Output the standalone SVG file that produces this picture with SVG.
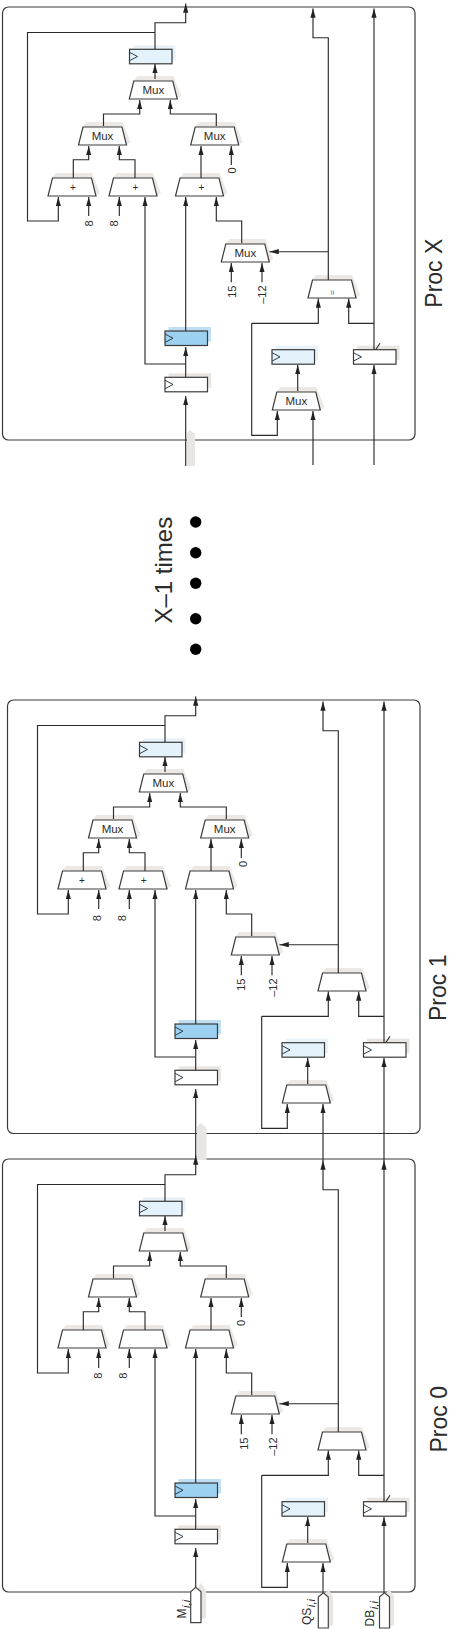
<svg xmlns="http://www.w3.org/2000/svg" xmlns:xlink="http://www.w3.org/1999/xlink" width="451" height="1629" viewBox="0 0 451 1629">
<style>
text{font-family:"Liberation Sans",Arial,sans-serif;fill:#2b2b2b}
.frame{fill:#fff;stroke:#3a3a3a;stroke-width:1.2}
.w{fill:none;stroke:#2a2a2a;stroke-width:1.15}
.a{marker-end:url(#ah)}
.trap{fill:#fff;stroke:#3c3c3c;stroke-width:1.2;stroke-linejoin:miter}
.trapsh{fill:#ebe8e5}
.reg{stroke:#3a3a3a;stroke-width:1.2}
.clk{fill:none;stroke:#2f3f4a;stroke-width:1}
.mux{font-size:11.5px;text-anchor:middle}
.plus{font-size:10px;text-anchor:middle}
.num{font-size:11px}
.big{font-size:23px}
.pin{fill:#fff;stroke:#444;stroke-width:1.2}
.sub{font-size:11.5px;font-style:italic}
.bus{fill:#e8e5e2}
</style>
<defs>
<marker id="ah" markerUnits="userSpaceOnUse" markerWidth="10" markerHeight="6" refX="9.3" refY="2.6" orient="auto"><path d="M0,0 L9.3,2.6 L0,5.2z" fill="#222"/></marker>
<g id="trapezoid"><polygon class="trapsh" points="4,-18 8,-23 44,-23 52,-3 48,0"/><polygon class="trap" points="0,0 48,0 43.5,-18 4.5,-18"/></g>
<g id="regw"><rect x="3.5" y="-4" width="42.5" height="14.5" fill="#e8e5e2"/><rect class="reg" width="42.5" height="14.5" fill="#fff"/><polyline class="clk" points="0,3 8,7.2 0,11.4"/></g>
<g id="regl"><rect x="3.5" y="-4" width="42.5" height="14.5" fill="#e9f2f8"/><rect class="reg" width="42.5" height="14.5" fill="#e3f2fb"/><polyline class="clk" points="0,3 8,7.2 0,11.4"/></g>
<g id="regb"><rect x="3.5" y="-4" width="42.5" height="14.5" fill="#bfe0f4"/><rect class="reg" width="42.5" height="14.5" fill="#9dd1f1"/><polyline class="clk" points="0,3 8,7.2 0,11.4"/></g>
</defs>
<rect width="451" height="1629" fill="#fff"/>

<g id="frames">
<rect id="frame-x" class="frame" x="2.5" y="7" width="412.5" height="433" rx="6"/>
<rect id="frame-1" class="frame" x="7.5" y="700" width="412.5" height="433.5" rx="6"/>
<rect id="frame-0" class="frame" x="2.5" y="1159" width="412.5" height="433" rx="6"/>
</g>

<g id="bus-shadows">
<polygon class="bus" points="187,466 187,433 190,430 195,434 195,466"/>
<polygon class="bus" points="197,1160 197,1127 201,1123 206.5,1128 206.5,1160"/>
</g>

<g id="proc-x" transform="translate(0,0)">
<g id="x-reg-out" transform="translate(129.5,49.3)"><use xlink:href="#regl" href="#regl"/></g>
<g id="x-mux-top" transform="translate(129.3,99)"><use xlink:href="#trapezoid" href="#trapezoid"/><text class="mux" x="24" y="-5">Mux</text></g>
<g id="x-mux-l" transform="translate(78.5,145)"><use xlink:href="#trapezoid" href="#trapezoid"/><text class="mux" x="24" y="-5">Mux</text></g>
<g id="x-mux-r" transform="translate(190.7,145)"><use xlink:href="#trapezoid" href="#trapezoid"/><text class="mux" x="24" y="-5">Mux</text></g>
<g id="x-add-a" transform="translate(48,196)"><use xlink:href="#trapezoid" href="#trapezoid"/><text class="plus" x="25" y="-5.5">+</text></g>
<g id="x-add-b" transform="translate(109,196)"><use xlink:href="#trapezoid" href="#trapezoid"/><text class="plus" x="26.5" y="-5.5">+</text></g>
<g id="x-add-c" transform="translate(175.5,196)"><use xlink:href="#trapezoid" href="#trapezoid"/><text class="plus" x="26" y="-5.5">+</text></g>
<g id="x-mux-3" transform="translate(221.3,262)"><use xlink:href="#trapezoid" href="#trapezoid"/><text class="mux" x="24" y="-5">Mux</text></g>
<g id="x-eq" transform="translate(308,298)"><use xlink:href="#trapezoid" href="#trapezoid"/><text class="plus" transform="translate(27,-5.5) rotate(-90)" style="font-size:9px;fill:#666">=</text></g>
<g id="x-mux-4" transform="translate(272.3,410)"><use xlink:href="#trapezoid" href="#trapezoid"/><text class="mux" x="24" y="-5">Mux</text></g>
<g id="x-reg-blue" transform="translate(165,331)"><use xlink:href="#regb" href="#regb"/></g>
<g id="x-reg-white" transform="translate(165,377.3)"><use xlink:href="#regw" href="#regw"/></g>
<g id="x-reg-light" transform="translate(272,349.7)"><use xlink:href="#regl" href="#regl"/></g>
<g id="x-reg-right" transform="translate(353.5,349.7)"><use xlink:href="#regw" href="#regw"/><path class="w" d="M22.5,-0.5 L26.5,-6.5"/></g>
<g id="x-labels">
<text class="num" transform="translate(93,223.5) rotate(-90)" text-anchor="middle">8</text>
<text class="num" transform="translate(118,223.5) rotate(-90)" text-anchor="middle">8</text>
<text class="num" transform="translate(236,170.5) rotate(-90)" text-anchor="middle">0</text>
<text class="num" transform="translate(236,285.5) rotate(-90)" text-anchor="end">15</text>
<text class="num" transform="translate(265.7,285.5) rotate(-90)" text-anchor="end">–12</text>
</g>
<g id="x-wires">
<path class="w a" d="M155,49 V22.7 H185.7 V3.5"/>
<path class="w a" d="M155,32.5 H27.5 V221 H58.3 V197"/>
<path class="w a" d="M155,79 V64"/>
<path class="w a" d="M103.5,126 V114 H139.7 V100"/>
<path class="w a" d="M216.3,126 V114 H170.3 V100"/>
<path class="w a" d="M73.3,178 V159.7 H88.7 V146"/>
<path class="w a" d="M135,178 V159.7 H119.3 V146"/>
<path class="w a" d="M201,178 V146"/>
<path class="w a" d="M231.3,165 V146"/>
<path class="w a" d="M88.7,216 V197"/>
<path class="w a" d="M119.3,216 V197"/>
<path class="w a" d="M185.7,364 H145 V197"/>
<path class="w a" d="M185.7,331 V197"/>
<path class="w a" d="M241.7,243 V221 H216.3 V197"/>
<path class="w a" d="M231.3,282.3 V263"/>
<path class="w a" d="M262,282.3 V263"/>
<path class="w a" d="M328.3,251.7 H269.5"/>
<path class="w a" d="M328.3,280 V37.7 H313 V8.5"/>
<path class="w a" d="M374,350 V8.5"/>
<path class="w a" d="M374,323.3 H348.7 V298.5"/>
<path class="w a" d="M251.7,323.3 H318.3 V298.5"/>
<path class="w a" d="M251.7,323.3 V435.3 H277.3 V411"/>
<path class="w a" d="M297.7,391 V365"/>
<path class="w a" d="M374,465 V365"/>
<path class="w a" d="M313,465 V411"/>
<path class="w a" d="M185.7,466 V396"/>
<path class="w a" d="M185.7,377 V347"/>
</g>
</g>

<g id="proc-1" transform="translate(10,693)">
<g id="p1-reg-out" transform="translate(129.5,49.3)"><use xlink:href="#regl" href="#regl"/></g>
<g id="p1-mux-top" transform="translate(129.3,99)"><use xlink:href="#trapezoid" href="#trapezoid"/><text class="mux" x="24" y="-5">Mux</text></g>
<g id="p1-mux-l" transform="translate(78.5,145)"><use xlink:href="#trapezoid" href="#trapezoid"/><text class="mux" x="24" y="-5">Mux</text></g>
<g id="p1-mux-r" transform="translate(190.7,145)"><use xlink:href="#trapezoid" href="#trapezoid"/><text class="mux" x="24" y="-5">Mux</text></g>
<g id="p1-add-a" transform="translate(48,196)"><use xlink:href="#trapezoid" href="#trapezoid"/><text class="plus" x="24" y="-5.5">+</text></g>
<g id="p1-add-b" transform="translate(109,196)"><use xlink:href="#trapezoid" href="#trapezoid"/><text class="plus" x="24.7" y="-5.5">+</text></g>
<g id="p1-add-c" transform="translate(175.5,196)"><use xlink:href="#trapezoid" href="#trapezoid"/></g>
<g id="p1-mux-3" transform="translate(221.3,262)"><use xlink:href="#trapezoid" href="#trapezoid"/></g>
<g id="p1-eq" transform="translate(308,298)"><use xlink:href="#trapezoid" href="#trapezoid"/></g>
<g id="p1-mux-4" transform="translate(272.3,410)"><use xlink:href="#trapezoid" href="#trapezoid"/></g>
<g id="p1-reg-blue" transform="translate(165,331)"><use xlink:href="#regb" href="#regb"/></g>
<g id="p1-reg-white" transform="translate(165,377.3)"><use xlink:href="#regw" href="#regw"/></g>
<g id="p1-reg-light" transform="translate(272,349.7)"><use xlink:href="#regl" href="#regl"/></g>
<g id="p1-reg-right" transform="translate(353.5,349.7)"><use xlink:href="#regw" href="#regw"/><path class="w" d="M22.5,-0.5 L26.5,-6.5"/></g>
<g id="p1-labels">
<text class="num" transform="translate(90.7,225.3) rotate(-90)" text-anchor="middle">8</text>
<text class="num" transform="translate(116,225.3) rotate(-90)" text-anchor="middle">8</text>
<text class="num" transform="translate(237,171) rotate(-90)" text-anchor="middle">0</text>
<text class="num" transform="translate(235,285.5) rotate(-90)" text-anchor="end">15</text>
<text class="num" transform="translate(266.7,285.5) rotate(-90)" text-anchor="end">–12</text>
</g>
<g id="p1-wires">
<path class="w a" d="M155,49 V22.7 H185.7 V3.5"/>
<path class="w a" d="M155,32.5 H27.5 V221 H58.3 V197"/>
<path class="w a" d="M155,79 V64"/>
<path class="w a" d="M103.5,126 V114 H139.7 V100"/>
<path class="w a" d="M216.3,126 V114 H170.3 V100"/>
<path class="w a" d="M73.3,178 V159.7 H88.7 V146"/>
<path class="w a" d="M135,178 V159.7 H119.3 V146"/>
<path class="w a" d="M201,178 V146"/>
<path class="w a" d="M231.3,165 V146"/>
<path class="w a" d="M88.7,216 V197"/>
<path class="w a" d="M119.3,216 V197"/>
<path class="w a" d="M185.7,364 H145 V197"/>
<path class="w a" d="M185.7,331 V197"/>
<path class="w a" d="M241.7,243 V221 H216.3 V197"/>
<path class="w a" d="M231.3,282.3 V263"/>
<path class="w a" d="M262,282.3 V263"/>
<path class="w a" d="M328.3,251.7 H269.5"/>
<path class="w a" d="M328.3,280 V37.7 H313 V8.5"/>
<path class="w a" d="M374,350 V8.5"/>
<path class="w a" d="M374,323.3 H348.7 V298.5"/>
<path class="w a" d="M251.7,323.3 H318.3 V298.5"/>
<path class="w a" d="M251.7,323.3 V435.3 H277.3 V411"/>
<path class="w a" d="M297.7,391 V365"/>
<path class="w a" d="M374,468 V365"/>
<path class="w a" d="M313,468 V411"/>
<path class="w a" d="M185.7,464 V396"/>
<path class="w a" d="M185.7,377 V347"/>
</g>
</g>

<g id="proc-0" transform="translate(10,1152)">
<g id="p0-reg-out" transform="translate(129.5,49.3)"><use xlink:href="#regl" href="#regl"/></g>
<g id="p0-mux-top" transform="translate(129.3,99)"><use xlink:href="#trapezoid" href="#trapezoid"/></g>
<g id="p0-mux-l" transform="translate(78.5,145)"><use xlink:href="#trapezoid" href="#trapezoid"/></g>
<g id="p0-mux-r" transform="translate(190.7,145)"><use xlink:href="#trapezoid" href="#trapezoid"/></g>
<g id="p0-add-a" transform="translate(48,196)"><use xlink:href="#trapezoid" href="#trapezoid"/></g>
<g id="p0-add-b" transform="translate(109,196)"><use xlink:href="#trapezoid" href="#trapezoid"/></g>
<g id="p0-add-c" transform="translate(175.5,196)"><use xlink:href="#trapezoid" href="#trapezoid"/></g>
<g id="p0-mux-3" transform="translate(221.3,262)"><use xlink:href="#trapezoid" href="#trapezoid"/></g>
<g id="p0-eq" transform="translate(308,298)"><use xlink:href="#trapezoid" href="#trapezoid"/></g>
<g id="p0-mux-4" transform="translate(272.3,410)"><use xlink:href="#trapezoid" href="#trapezoid"/></g>
<g id="p0-reg-blue" transform="translate(165,331)"><use xlink:href="#regb" href="#regb"/></g>
<g id="p0-reg-white" transform="translate(165,377.3)"><use xlink:href="#regw" href="#regw"/></g>
<g id="p0-reg-light" transform="translate(272,349.7)"><use xlink:href="#regl" href="#regl"/></g>
<g id="p0-reg-right" transform="translate(353.5,349.7)"><use xlink:href="#regw" href="#regw"/><path class="w" d="M22.5,-0.5 L26.5,-6.5"/></g>
<g id="p0-labels">
<text class="num" transform="translate(92,223.7) rotate(-90)" text-anchor="middle">8</text>
<text class="num" transform="translate(117,223.7) rotate(-90)" text-anchor="middle">8</text>
<text class="num" transform="translate(234.7,171) rotate(-90)" text-anchor="middle">0</text>
<text class="num" transform="translate(238,285.5) rotate(-90)" text-anchor="end">15</text>
<text class="num" transform="translate(266.7,285.5) rotate(-90)" text-anchor="end">–12</text>
</g>
<g id="p0-wires">
<path class="w a" d="M155,49 V22.7 H185.7 V3.5"/>
<path class="w a" d="M155,32.5 H27.5 V221 H58.3 V197"/>
<path class="w a" d="M155,79 V64"/>
<path class="w a" d="M103.5,126 V114 H139.7 V100"/>
<path class="w a" d="M216.3,126 V114 H170.3 V100"/>
<path class="w a" d="M73.3,178 V159.7 H88.7 V146"/>
<path class="w a" d="M135,178 V159.7 H119.3 V146"/>
<path class="w a" d="M201,178 V146"/>
<path class="w a" d="M231.3,165 V146"/>
<path class="w a" d="M88.7,216 V197"/>
<path class="w a" d="M119.3,216 V197"/>
<path class="w a" d="M185.7,364 H145 V197"/>
<path class="w a" d="M185.7,331 V197"/>
<path class="w a" d="M241.7,243 V221 H216.3 V197"/>
<path class="w a" d="M231.3,282.3 V263"/>
<path class="w a" d="M262,282.3 V263"/>
<path class="w a" d="M328.3,251.7 H269.5"/>
<path class="w a" d="M328.3,280 V37.7 H313 V8.5"/>
<path class="w a" d="M374,350 V8.5"/>
<path class="w a" d="M374,323.3 H348.7 V298.5"/>
<path class="w a" d="M251.7,323.3 H318.3 V298.5"/>
<path class="w a" d="M251.7,323.3 V435.3 H277.3 V411"/>
<path class="w a" d="M297.7,391 V365"/>
<path class="w a" d="M374,441 V365"/>
<path class="w a" d="M313,441 V411"/>
<path class="w a" d="M185.7,435 V396"/>
<path class="w a" d="M185.7,377 V347"/>
</g>
</g>

<g id="pin-m">
<polygon class="bus" points="196,1622 196,1590 201,1583 206,1590 206,1618"/>
<polygon class="pin" points="190.7,1622.7 190.7,1591.7 195.8,1587.3 201,1591.7 201,1622.7"/>
<text style="font-size:12px" transform="translate(185.7,1618.5) rotate(-90)">M<tspan class="sub" dy="4" dx="0.5">i,i</tspan></text>
</g>
<g id="pin-qs">
<polygon class="bus" points="324,1629 324,1596 328,1589 333,1596 333,1625"/>
<polygon class="pin" points="318.3,1628 318.3,1597 323.3,1592.7 328.3,1597 328.3,1628"/>
<text style="font-size:12px" transform="translate(311.3,1625) rotate(-90)">QS<tspan class="sub" dy="4" dx="0.5">i,i</tspan></text>
</g>
<g id="pin-db">
<polygon class="bus" points="385,1629 385,1596 389,1589 394,1596 394,1625"/>
<polygon class="pin" points="379.5,1628 379.5,1597 384.5,1592.7 389.5,1597 389.5,1628"/>
<text style="font-size:12px" transform="translate(374,1626.5) rotate(-90)">DB<tspan class="sub" dy="4" dx="0.5">i,i</tspan></text>
</g>

<g id="captions">
<text class="big" transform="translate(441.7,307.7) rotate(-90) scale(1,1.08)">Proc X</text>
<text class="big" transform="translate(445.7,1021) rotate(-90) scale(1,1.08)">Proc 1</text>
<text class="big" transform="translate(446.5,1452.5) rotate(-90) scale(1,1.08)">Proc 0</text>
<text class="big" style="font-size:24px" transform="translate(171.7,623.5) rotate(-90)">X–1 times</text>
</g>
<g id="ellipsis" fill="#000">
<circle cx="195.7" cy="522" r="5.7"/>
<circle cx="195.7" cy="552.7" r="5.7"/>
<circle cx="195.7" cy="583.3" r="5.7"/>
<circle cx="195.7" cy="618.7" r="5.7"/>
<circle cx="195.7" cy="649.3" r="5.7"/>
</g>
</svg>
